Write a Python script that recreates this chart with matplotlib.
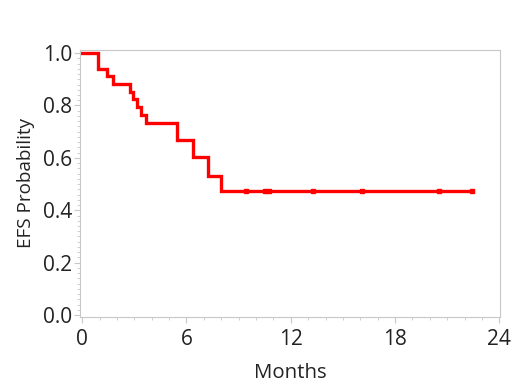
import matplotlib

matplotlib.use("Agg")
import matplotlib.pyplot as plt
import numpy as np

plt.rcParams["font.family"] = ["Open Sans", "DejaVu Sans"]

# Kaplan-Meier steps
months = [0, 0.9, 1.4, 1.8, 2.75, 2.95, 3.15, 3.4, 3.7, 5.45, 6.4, 7.25, 8.0, 22.45]
efs = [1.0, 0.941, 0.912, 0.882, 0.853, 0.824, 0.794, 0.765, 0.735, 0.668, 0.604, 0.53, 0.475, 0.475]

# censored observations
cens_months = [9.4, 10.5, 10.75, 13.3, 16.1, 20.5, 22.45]
cens_efs = [0.475, 0.475, 0.475, 0.475, 0.475, 0.475, 0.475]

x_ticks = [0, 6, 12, 18, 24]
y_ticks = [0.0, 0.2, 0.4, 0.6, 0.8, 1.0]

fig = plt.figure(figsize=(5.2, 3.9), dpi=100)
ax = fig.add_axes([0.154, 0.188, 0.808, 0.684])

red = "#ff0000"
ax.step(months, efs, where="post", color=red, lw=2.4, solid_joinstyle="miter")
ax.plot(cens_months, cens_efs, ls="none", marker="s", ms=3.5, color=red)

ax.set_xlim(-0.12, 24.05)
ax.set_ylim(-0.006, 1.012)
ax.set_xticks(x_ticks)
ax.set_yticks(y_ticks)
ax.set_xticks(np.arange(0, 25, 1), minor=True)
ax.set_yticks(np.arange(0, 1.001, 0.02), minor=True)
ax.set_yticklabels([f"{v:.1f}" for v in y_ticks])

grey = "#c8c8c8"
for s in ax.spines.values():
    s.set_color(grey)
    s.set_linewidth(0.8)
ax.tick_params(which="major", length=4, color=grey, labelsize=15, labelcolor="#222222")
ax.tick_params(axis="x", which="major", pad=5)
ax.tick_params(axis="y", which="major", pad=1.5)
ax.tick_params(which="minor", length=2, color=grey)

ax.set_xlabel("Months", fontsize=14.7, color="#222222", labelpad=9)
ax.set_ylabel("EFS Probability", fontsize=13.6, color="#222222", labelpad=6)

fig.savefig("out.png", dpi=100)
plt.close(fig)
